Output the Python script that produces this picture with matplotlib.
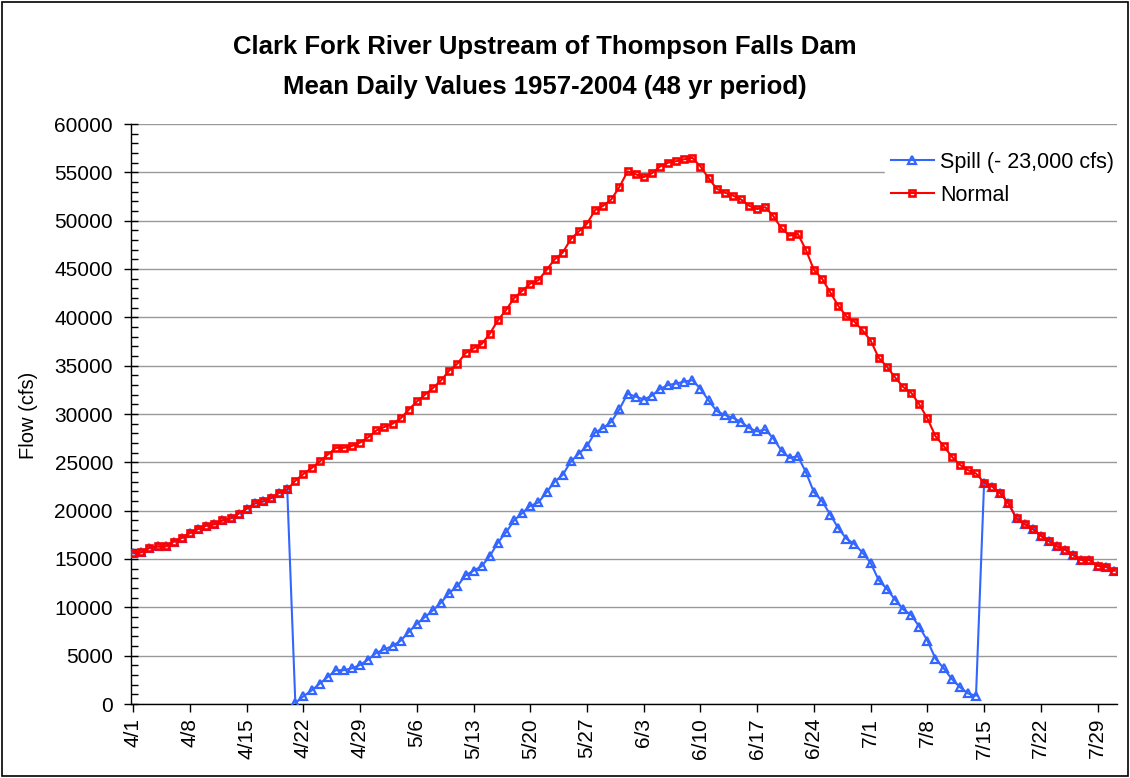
import matplotlib
matplotlib.use("Agg")
import matplotlib.pyplot as plt
from matplotlib.patches import Rectangle
from matplotlib.ticker import MultipleLocator
import pandas as pd

plt.rcParams['font.family'] = ['Liberation Sans', 'DejaVu Sans']

# days 4/1 .. 7/31
dates = pd.date_range("2004-04-01", "2004-07-31", freq="D")
dayLabels = [f"{d.month}/{d.day}" for d in dates]

# mean daily flow (cfs)
normal = [15600, 15700, 16150, 16300, 16300, 16800, 17200, 17700, 18100, 18450,
          18600, 19000, 19200, 19700, 20200, 20750, 20950, 21300, 21850, 22200,
          23100, 23800, 24400, 25100, 25800, 26500, 26500, 26700, 27050, 27600,
          28300, 28660, 29000, 29550, 30450, 31300, 32000, 32700, 33500, 34500,
          35200, 36300, 36800, 37250, 38300, 39700, 40750, 42000, 42750, 43500,
          43850, 44900, 46000, 46700, 48100, 48900, 49700, 51100, 51550, 52200,
          53500, 55100, 54800, 54500, 54900, 55600, 56000, 56150, 56350, 56500,
          55600, 54400, 53300, 52900, 52600, 52200, 51550, 51200, 51400, 50450,
          49200, 48450, 48650, 47000, 44900, 44000, 42600, 41200, 40100, 39550,
          38650, 37600, 35800, 34900, 33800, 32800, 32200, 31000, 29550, 27700,
          26700, 25600, 24750, 24200, 23850, 22900, 22500, 21800, 20750, 19200,
          18600, 18100, 17400, 16850, 16300, 15950, 15400, 14900, 14900, 14300,
          14200, 13800]

spill = [15600, 15700, 16150, 16300, 16300, 16800, 17200, 17700, 18100, 18450,
         18600, 19000, 19200, 19700, 20200, 20750, 20950, 21300, 21850, 22200,
         100, 800, 1400, 2100, 2800, 3500, 3500, 3700, 4050, 4600,
         5300, 5660, 6000, 6550, 7450, 8300, 9000, 9700, 10500, 11500,
         12200, 13300, 13800, 14250, 15300, 16700, 17750, 19000, 19750, 20500,
         20850, 21900, 23000, 23700, 25100, 25900, 26700, 28100, 28550, 29200,
         30500, 32100, 31800, 31500, 31900, 32600, 33000, 33150, 33350, 33500,
         32600, 31400, 30300, 29900, 29600, 29200, 28550, 28200, 28400, 27450,
         26200, 25450, 25650, 24000, 21900, 21000, 19600, 18200, 17100, 16550,
         15650, 14600, 12800, 11900, 10800, 9800, 9200, 8000, 6550, 4700,
         3700, 2600, 1750, 1100, 850, 22900, 22500, 21800, 20750, 19200,
         18600, 18100, 17400, 16850, 16300, 15950, 15400, 14900, 14900, 14300,
         14200, 13800]

x = list(range(len(dates)))

fig = plt.figure(figsize=(11.3, 7.78), dpi=100)
ax = fig.add_axes([131/1130, 74/778, 986/1130, 580/778])

ax.plot(x, spill, color='#3366FF', lw=1.5, marker='^', ms=5.5, mfc='none',
        mec='#3366FF', mew=1.6, label='Spill (- 23,000 cfs)', zorder=3)
ax.plot(x, normal, color='#FF0000', lw=1.5, marker='s', ms=4.3, mfc='none',
        mec='#FF0000', mew=1.9, label='Normal', zorder=4)

ax.set_xlim(-0.28, 121.4)
ax.set_ylim(0, 60000)
ax.yaxis.set_major_locator(MultipleLocator(5000))
ax.yaxis.set_minor_locator(MultipleLocator(1000))
ax.grid(axis='y', which='major', color='#999999', lw=1)
ax.set_axisbelow(True)

ticks = x[::7]
ax.set_xticks(ticks)
ax.set_xticklabels([dayLabels[i] for i in ticks], rotation=90, fontsize=15)
ax.tick_params(axis='x', direction='out', length=6, width=1, pad=4)
ax.tick_params(axis='y', which='major', direction='inout', length=10, width=1,
               labelsize=15, pad=8)
ax.tick_params(axis='y', which='minor', direction='in', length=5, width=1)

for s in ['top', 'right']:
    ax.spines[s].set_visible(False)
for s in ['left', 'bottom']:
    ax.spines[s].set_color('black')
    ax.spines[s].set_linewidth(1)

fig.text(28/1130, 1 - 415/778, 'Flow (cfs)', rotation=90, ha='center',
         va='center', fontsize=14.5)

leg = ax.legend(loc='upper right', bbox_to_anchor=(1.004, 0.963), fontsize=15.5,
                frameon=True, fancybox=False, handlelength=2.0, handletextpad=0.3,
                borderpad=0.3, labelspacing=0.55, borderaxespad=0)
leg.get_frame().set_edgecolor('white')
leg.get_frame().set_facecolor('white')
leg.get_frame().set_alpha(1)

fig.text(545/1130, 1 - 47/778, 'Clark Fork River Upstream of Thompson Falls Dam',
         ha='center', va='center', fontsize=18.5, fontweight='bold')
fig.text(545/1130, 1 - 87/778, 'Mean Daily Values 1957-2004 (48 yr period)',
         ha='center', va='center', fontsize=18.5, fontweight='bold')

fig.add_artist(Rectangle((0.002, 0.002), 0.996, 0.996, transform=fig.transFigure,
                         fill=False, edgecolor='black', lw=1.2))

fig.savefig('out.png', dpi=100)
